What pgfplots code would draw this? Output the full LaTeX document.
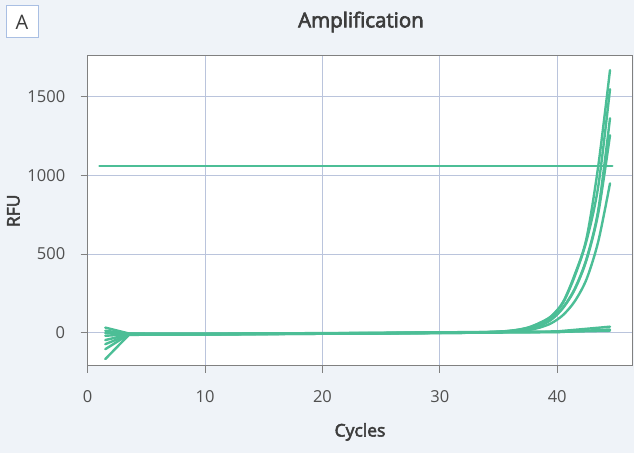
\documentclass[border=0pt]{standalone}
\usepackage{pgfplots}
\pgfplotsset{compat=1.18}
\usepackage{fontspec}
\setmainfont{Open Sans}
\newfontfamily\semib{Open Sans}[FakeBold=3]
\definecolor{bgc}{HTML}{EFF3F8}
\definecolor{gridc}{HTML}{BAC4DC}
\definecolor{framec}{HTML}{808080}
\definecolor{curvec}{RGB}{76,190,150}
\definecolor{txtc}{HTML}{3C3C3C}
\definecolor{tickc}{HTML}{505050}
\definecolor{boxc}{HTML}{A9BFE3}
\pgfplotsset{cv/.style={curvec, line width=2.4bp, line join=round, line cap=round, no markers},
  cvs/.style={cv, smooth, tension=0.5}}
\begin{document}
\begin{tikzpicture}
\fill[bgc] (0,0) rectangle (634bp,453bp);
\node[draw=boxc, line width=1bp, fill=white, minimum width=32bp, minimum height=32bp, inner sep=0pt, font=\fontsize{20bp}{22bp}\selectfont, text=txtc] at (22bp,431bp) {A};
\node[font=\fontsize{20.5bp}{22bp}\selectfont\semib, text=txtc] at (361bp,431bp) {Amplification};
\begin{axis}[
  at={(87.7bp,87bp)}, anchor=south west,
  scale only axis, width=544.6bp, height=310.3bp,
  xmin=0, xmax=46.4, ymin=-212, ymax=1761,
  xtick={0,10,20,30,40}, ytick={0,500,1000,1500},
  axis background/.style={fill=white},
  grid=major, major grid style={gridc, line width=0.8bp},
  axis line style={framec, line width=1bp},
  tick pos=left, tick align=outside, major tick length=7bp,
  tick style={framec, line width=1bp},
  /pgf/number format/assume math mode=true,
  /pgf/number format/1000 sep={},
  tick label style={font=\fontsize{16.5bp}{19bp}\selectfont, text=tickc},
  xticklabel style={yshift=-14bp},
  yticklabel style={xshift=-12bp},
  xlabel={Cycles}, ylabel={RFU},
  label style={font=\fontsize{17.5bp}{20bp}\selectfont\semib, text=txtc},
  xlabel style={at={(axis description cs:0.5,-0.2127)}, anchor=center},
  ylabel style={at={(axis description cs:-0.1363,0.5)}, anchor=center},
]
\addplot[cv] coordinates {(1,1060) (44.7,1060)};
% flat / fan parts
\addplot[cv] coordinates {(1.5,32)(3.5,-5)(6,-8)(10,-8)(15,-6)(20,-4)(25,-2)(30,1)(33.5,3)};
\addplot[cv] coordinates {(1.5,-3)(3.5,-8)(6,-9)(10,-9)(15,-7)(20,-5)(25,-3)(30,0)(33.5,2)};
\addplot[cv] coordinates {(1.5,-47)(3.5,-12)(6,-10)(10,-10)(15,-8)(20,-6)(25,-4)(30,-1)(33.5,1)};
\addplot[cv] coordinates {(1.5,-73)(3.5,-13)(6,-11)(10,-11)(15,-9)(20,-7)(25,-5)(30,-2)(33.5,0)};
\addplot[cv] coordinates {(1.5,-168)(3.5,-15)(6,-11)(10,-10)(15,-8)(20,-6)(25,-4)(30,-2)(33.5,0)};
% exponential parts
\addplot[cvs] coordinates {(33.5,3)(34.5,5)(35.5,9)(36.5,17)(37.5,32)(38.5,62)(39.5,105)(40.5,195)(41.5,370)(42.5,600)(43.5,1060)(44.5,1669)};
\addplot[cvs] coordinates {(33.5,2)(34.5,4)(35.5,8)(36.5,16)(37.5,31)(38.5,59)(39.5,103)(40.5,190)(41.5,360)(42.5,585)(43.5,930)(44.5,1548)};
\addplot[cvs] coordinates {(33.5,1)(34.5,3)(35.5,6)(36.5,12)(37.5,23)(38.5,45)(39.5,85)(40.5,160)(41.5,280)(42.5,470)(43.5,780)(44.5,1363)};
\addplot[cvs] coordinates {(33.5,0)(34.5,2)(35.5,5)(36.5,11)(37.5,22)(38.5,43)(39.5,83)(40.5,157)(41.5,275)(42.5,462)(43.5,760)(44.5,1255)};
\addplot[cvs] coordinates {(33.5,0)(34.5,2)(35.5,4)(36.5,8)(37.5,16)(38.5,32)(39.5,60)(40.5,112)(41.5,200)(42.5,340)(43.5,580)(44.5,949)};
% flat curves
\addplot[cv] coordinates {(1.5,12)(3.5,-6)(10,-6)(20,-3)(30,2)(40,8)(44.5,38)};
\addplot[cv] coordinates {(1.5,-20)(3.5,-10)(10,-9)(20,-5)(30,0)(40,5)(44.5,12)};
\addplot[cv] coordinates {(1.5,-105)(3.5,-12)(10,-12)(20,-7)(30,-2)(40,3)(44.5,20)};
\end{axis}
\end{tikzpicture}
\end{document}
